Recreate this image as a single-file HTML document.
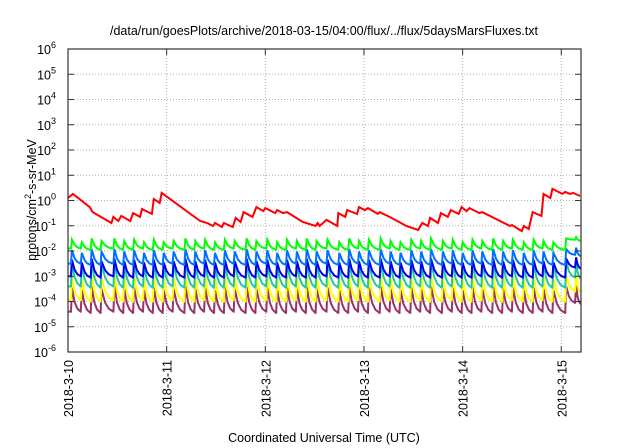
<!DOCTYPE html>
<html><head><meta charset="utf-8"><style>
body{margin:0;background:#fff;}
svg{display:block;font-family:"Liberation Sans",sans-serif;}
</style></head><body>
<svg id="chart" width="640" height="448" viewBox="0 0 640 448" xmlns="http://www.w3.org/2000/svg">
<text x="324" y="35" font-size="12.5" text-anchor="middle">/data/run/goesPlots/archive/2018-03-15/04:00/flux/../flux/5daysMarsFluxes.txt</text>
<text x="324" y="442" font-size="12.5" text-anchor="middle">Coordinated Universal Time (UTC)</text>
<text transform="translate(36,200) rotate(-90)" font-size="12.5" text-anchor="middle">protons/cm<tspan dy="-5" font-size="9">2</tspan><tspan dy="5">-s-sr-MeV</tspan></text>
<g id="grid"></g>
<g id="series"></g>
<g id="axes"></g>
</svg>
<script>
const xTickLabels = ["2018-3-10","2018-3-11","2018-3-12","2018-3-13","2018-3-14","2018-3-15"];
const yTickExps = [-6,-5,-4,-3,-2,-1,0,1,2,3,4,5,6];
const xMaxDays = 5.2;
const redT = [0,0.05,0.22,0.25,0.44,0.46,0.51,0.54,0.63,0.66,0.73,0.75,0.85,0.87,0.93,0.95,1.34,1.41,1.47,1.49,1.56,1.58,1.67,1.70,1.75,1.78,1.87,1.91,1.98,2.00,2.10,2.12,2.18,2.22,2.38,2.51,2.53,2.55,2.62,2.73,2.74,2.81,2.83,2.93,2.95,3.01,3.04,3.14,3.16,3.26,3.43,3.55,3.59,3.65,3.67,3.75,3.78,3.85,3.88,3.96,3.99,4.04,4.07,4.17,4.20,4.48,4.50,4.60,4.62,4.67,4.71,4.80,4.82,4.89,4.91,5.01,5.04,5.09,5.12,5.19];
const redLog = [0.10,0.26,-0.26,-0.46,-0.89,-0.65,-0.81,-0.61,-0.81,-0.50,-0.65,-0.34,-0.53,0.06,-0.10,0.30,-0.81,-0.89,-1.01,-0.89,-1.05,-0.89,-1.05,-0.69,-0.85,-0.46,-0.65,-0.26,-0.42,-0.30,-0.50,-0.38,-0.50,-0.46,-0.85,-1.01,-0.89,-1.01,-0.77,-1.01,-0.50,-0.65,-0.38,-0.53,-0.26,-0.38,-0.30,-0.53,-0.46,-0.65,-1.01,-1.17,-0.89,-1.01,-0.69,-0.89,-0.50,-0.65,-0.38,-0.53,-0.26,-0.42,-0.30,-0.50,-0.46,-1.01,-0.97,-1.21,-1.01,-1.13,-0.46,-0.61,0.26,0.10,0.46,0.26,0.34,0.26,0.30,0.18];
const peakDays = [0.03,0.13,0.23,0.33,0.46,0.56,0.66,0.76,0.86,0.96,1.06,1.18,1.28,1.38,1.48,1.58,1.68,1.80,1.90,2.01,2.11,2.21,2.31,2.41,2.51,2.62,2.74,2.84,2.94,3.04,3.16,3.26,3.36,3.47,3.57,3.67,3.79,3.89,3.99,4.09,4.19,4.30,4.40,4.50,4.61,4.71,4.81,4.91,5.04,5.14];
const greenPeak = [-1.55,-1.65,-1.5,-1.6,-1.5,-1.6,-1.55,-1.65,-1.55,-1.65,-1.6,-1.5,-1.6,-1.55,-1.65,-1.55,-1.6,-1.5,-1.6,-1.55,-1.65,-1.55,-1.6,-1.5,-1.6,-1.55,-1.65,-1.5,-1.6,-1.55,-1.5,-1.6,-1.65,-1.55,-1.6,-1.5,-1.6,-1.55,-1.65,-1.55,-1.6,-1.5,-1.6,-1.55,-1.65,-1.55,-1.6,-1.65,-1.5,-1.45];
const greenLow = [-1.9,-1.95,-1.95,-1.9,-1.95,-1.95,-1.9,-1.95,-1.95,-1.9,-1.95,-1.95,-1.9,-1.95,-1.95,-1.9,-1.95,-1.95,-1.9,-1.95,-1.95,-1.9,-1.95,-1.95,-1.9,-1.95,-1.95,-1.9,-1.95,-1.95,-1.9,-1.95,-1.95,-1.9,-1.95,-1.95,-1.9,-1.95,-1.95,-1.9,-1.95,-1.95,-1.9,-1.95,-1.95,-1.9,-1.95,-1.95,-1.55,-1.6];
const lblueLow = greenLow.map(v => v - 0.6);
const lbluePeak = greenPeak.map(v => v - 0.42);
const dblueLow = greenLow.map(v => v - 1.1);
const dbluePeak = greenPeak.map(v => v - 0.8);
const tealLow = greenLow.map(v => v - 1.5);
const tealPeak = greenPeak.map(v => v - 0.92);
const yellowLow = greenLow.map(v => v - 2.05);
const yellowPeak = greenPeak.map(v => v - 1.45);
const purpleLow = greenLow.map(v => v - 2.5);
const purplePeak = greenPeak.map(v => v - 1.9);

const L = 68, R = 581, T = 49, B = 352;
const xs = d => L + (d / xMaxDays) * (R - L);
const ys = e => B - (e + 6) / 12 * (B - T);
const NS = "http://www.w3.org/2000/svg";
const grid = document.getElementById('grid'), axes = document.getElementById('axes'), ser = document.getElementById('series');
function mk(tag, attrs, parent){const el=document.createElementNS(NS,tag);for(const k in attrs)el.setAttribute(k,attrs[k]);parent.appendChild(el);return el;}

yTickExps.forEach(e => {
  const y = ys(e);
  if (e > -6 && e < 6) {
    const g = mk('line',{x1:L,x2:R,y1:y,y2:y,stroke:'#b0b0b0','stroke-width':1,'stroke-dasharray':'1,2'},grid);
    
    
  }
  const t1 = mk('line',{x1:L,x2:L+6,y1:y,y2:y,stroke:'#333','stroke-width':1},axes);
  
  
  const t2 = mk('line',{x1:R-6,x2:R,y1:y,y2:y,stroke:'#333','stroke-width':1},axes);
  
  
  const lab = mk('text',{x:56,y:y+5,'font-size':12.5,'text-anchor':'end'},axes);
  
  
  lab.innerHTML = '10<tspan dy="-6" font-size="9">'+e+'</tspan>';
});
xTickLabels.forEach((s,i) => {
  const x = xs(i);
  if (i > 0) {
    const g = mk('line',{x1:x,x2:x,y1:T,y2:B,stroke:'#b0b0b0','stroke-width':1,'stroke-dasharray':'1,2'},grid);
    
    
  }
  const t1 = mk('line',{x1:x,x2:x,y1:B-6,y2:B,stroke:'#333','stroke-width':1},axes);
  
  
  const t2 = mk('line',{x1:x,x2:x,y1:T,y2:T+6,stroke:'#333','stroke-width':1},axes);
  
  
  const lab = mk('text',{transform:'translate('+(x+5)+',360) rotate(-90)','font-size':12.5,'text-anchor':'end'},axes);
  
  
  lab.textContent = s;
});
const frame = mk('rect',{x:L,y:T,width:R-L,height:B-T,fill:'none',stroke:'#333','stroke-width':1.2},axes);



function saw(peaks, lows){
  let pts = [[xs(0), ys(lows[0])]];
  for (let i=0;i<peakDays.length;i++){
    const t = peakDays[i];
    const next = i+1<peakDays.length ? peakDays[i+1] : xMaxDays;
    const lo = lows[i], p = peaks[i];
    pts.push([xs(t), ys(lows[Math.max(0,i-1)])]);
    pts.push([xs(t+0.01), ys(p)]);
    const dt = next - t - 0.01;
    pts.push([xs(t+0.01+dt*0.3), ys(lo+(p-lo)*0.4)]);
    pts.push([xs(t+0.01+dt*0.6), ys(lo+(p-lo)*0.13)]);
    pts.push([xs(Math.min(next-0.002, xMaxDays)), ys(lo)]);
  }
  return pts.map(p=>p[0].toFixed(1)+','+p[1].toFixed(1)).join(' ');
}
const defs = [
  ['series-purple','#993366',purplePeak,purpleLow],
  ['series-yellow','#ffff00',yellowPeak,yellowLow],
  ['series-teal','#20c8a0',tealPeak,tealLow],
  ['series-dark-blue','#0000ee',dbluePeak,dblueLow],
  ['series-light-blue','#0070ff',lbluePeak,lblueLow],
  ['series-green','#00ff00',greenPeak,greenLow]
];
defs.forEach(d => {
  const pl = mk('polyline',{points:saw(d[2],d[3]),fill:'none',stroke:d[1],'stroke-width':2,'stroke-linejoin':'miter'},ser);
  
  
});
const red = mk('polyline',{points:redT.map((t,i)=>xs(t).toFixed(1)+','+ys(redLog[i]).toFixed(1)).join(' '),fill:'none',stroke:'#ff0000','stroke-width':2},ser);


</script>
</body></html>
